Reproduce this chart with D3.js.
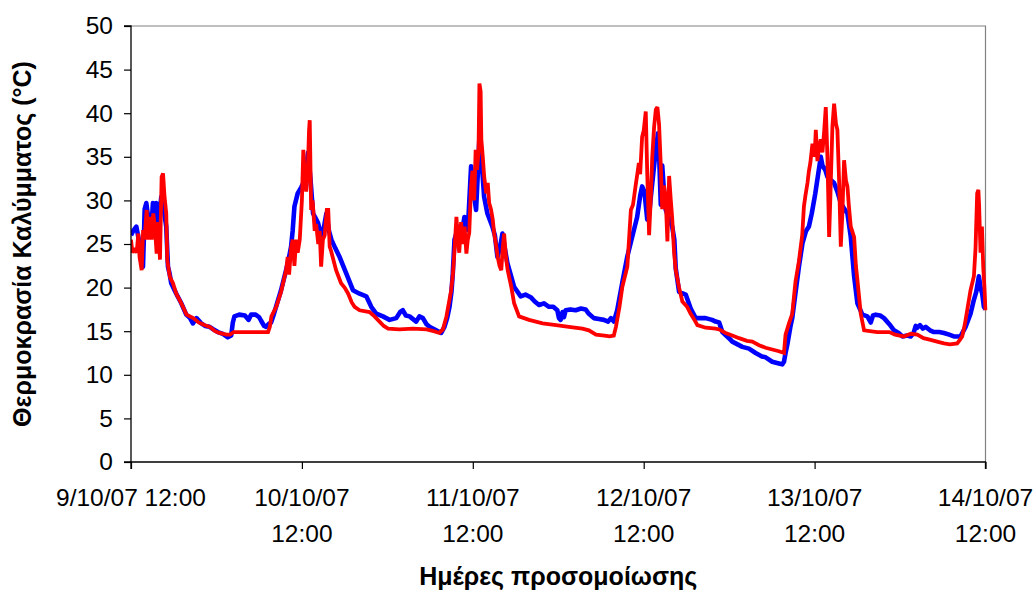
<!DOCTYPE html>
<html>
<head>
<meta charset="utf-8">
<script src="https://cdn.jsdelivr.net/npm/d3@7"></script>
<style>
  html, body { margin: 0; padding: 0; background: #fff; }
  svg { display: block; }
  text { font-family: "Liberation Sans", Arial, sans-serif; fill: #000; }
</style>
</head>
<body>
<div id="chart"></div>
<script>
// ---- data (hours after 9/10/07 12:00, temperature °C) ----
const blueHours = [0,0.3,0.75,1.1,1.45,1.68,1.8,1.92,2.15,2.5,2.8,3.08,3.3,3.55,3.8,4.0,4.25,4.6,4.95,5.19,5.42,5.65,6.36,7.06,7.76,8.3,8.69,9.2,9.86,10.4,11.03,11.6,12.2,12.9,13.6,14.07,14.3,14.53,15.2,16.0,16.5,16.87,17.5,18.0,18.27,18.7,18.97,19.3,19.67,20.0,20.37,21.07,21.78,22.2,22.48,22.7,22.95,23.41,
  23.9,24.4,24.87,25.2,25.57,25.9,26.27,26.7,27.0,27.44,27.8,28.14,28.7,29.3,30.24,31.17,32.1,33.04,33.74,34.45,35.38,36.31,37.25,37.8,38.18,38.6,39.12,40.05,40.5,40.99,41.5,41.92,42.86,43.56,44.02,44.4,44.73,45.0,45.19,45.43,45.8,46.13,46.5,46.83,47.3,47.76,48.1,48.46,48.7,48.93,
  49.2,49.59,50.05,50.75,51.1,51.46,51.8,52.16,52.5,52.86,53.32,53.79,54.73,55.4,56.13,56.7,57.3,58.0,58.7,59.3,59.87,60.1,60.33,60.6,60.8,61.04,61.7,62.44,63.2,63.84,64.3,65.0,65.7,66.41,67.0,67.4,67.81,68.28,68.98,69.68,70.38,71.08,71.5,71.78,
  72.1,72.5,72.76,73.0,73.5,74.0,74.2,74.4,74.6,74.86,75.1,75.6,76.0,76.3,76.5,76.97,77.9,78.6,79.3,80.7,81.6,82.1,82.6,83.04,83.98,84.44,85.38,85.85,86.78,87.72,88.6,89.12,90.05,90.99,91.45,91.7,91.92,92.2,92.6,92.86,93.3,93.8,94.3,94.8,95.2,95.6,96.1,96.5,96.87,97.1,97.5,
  97.8,98.74,99.2,99.68,100.2,100.61,101.08,101.55,102.01,102.71,103.41,103.88,104.2,104.58,105.2,105.75,106.5,107.15,107.8,108.32,109.0,109.49,109.9,110.2,110.42,110.8,111.2,111.59,112.2,112.76,113.5,114.16,114.9,115.56,116.5,117.2,117.9,118.37,118.7,119.07,119.3,119.54,119.77,120.0];
const blueTemp = [26.0,26.5,27.0,25.5,23.2,22.4,25.5,29.0,29.7,27.5,26.0,29.7,27.5,29.7,26.5,28.5,30.4,29.0,27.0,22.4,21.6,20.5,19.3,18.2,16.9,16.5,15.9,16.5,15.9,15.6,15.5,15.2,14.9,14.7,14.3,14.5,16.0,16.7,16.9,16.8,16.3,16.9,16.9,16.6,16.2,15.6,15.5,15.8,16.0,16.8,17.8,19.7,22.0,23.5,24.7,26.5,29.3,30.8,
  31.5,32.3,35.5,32.5,28.5,28.0,27.4,26.0,26.5,28.5,26.5,25.5,24.5,23.5,21.6,19.7,19.3,19.0,17.8,17.0,16.7,16.3,16.5,17.2,17.4,16.8,16.7,16.1,16.7,16.5,15.8,15.5,15.1,14.8,15.5,16.5,17.8,19.5,21.6,25.5,26.5,27.0,26.5,28.1,26.6,33.9,31.0,28.9,33.0,37.3,
  35.0,30.4,28.5,27.0,26.0,23.5,24.5,26.2,24.5,22.8,21.5,20.1,19.0,19.2,18.9,18.4,18.0,18.2,17.8,17.8,17.4,16.5,16.3,17.2,16.6,17.4,17.5,17.4,17.6,17.5,17.0,16.5,16.4,16.3,16.1,16.5,16.1,17.4,20.5,23.5,25.8,28.1,30.5,31.6,
  31.0,27.8,28.3,30.4,34.3,37.7,34.4,29.5,34.0,30.9,28.9,27.8,27.0,25.5,22.2,19.5,19.2,17.6,16.5,16.5,16.3,16.1,16.0,14.9,14.2,13.8,13.4,13.2,13.0,12.5,12.1,12.0,11.5,11.3,11.2,11.5,12.5,13.6,15.5,16.5,19.3,22.4,25.1,26.5,27.0,28.5,30.8,33.0,35.0,34.0,33.5,
  32.7,32.0,31.0,29.7,29.0,28.5,25.8,21.3,18.2,16.9,16.7,16.0,16.8,16.9,16.8,16.5,15.8,15.1,14.8,14.4,14.5,14.4,14.8,15.6,15.4,15.7,15.3,15.5,15.1,14.9,14.9,14.8,14.6,14.4,14.4,15.5,17.0,18.6,19.5,21.3,20.0,19.3,17.8,17.5];

const redHours = [0,0.2,0.5,0.8,1.03,1.2,1.5,1.7,1.9,2.2,2.45,2.7,2.9,3.13,3.35,3.6,3.8,4.07,4.3,4.5,4.7,4.95,5.09,5.3,5.47,5.9,6.36,7.06,7.8,8.74,9.5,10.3,11.07,11.8,12.4,13.4,13.9,14.4,15.05,17.0,19.25,19.5,19.72,20.4,21.07,21.5,21.78,22.0,22.2,22.48,22.71,22.95,23.2,23.41,
  23.7,24.0,24.2,24.4,24.6,24.85,25.0,25.1,25.3,25.5,25.8,26.0,26.3,26.5,26.7,26.95,27.2,27.5,27.7,27.9,28.1,28.8,29.5,30.0,30.5,31.0,31.4,32.1,33.5,34.2,34.9,35.5,36.1,37.7,39.6,41.5,42.5,43.3,43.8,44.3,44.96,45.2,45.4,45.7,45.9,46.1,46.35,46.6,46.85,47.1,47.3,47.5,47.75,47.95,48.2,48.4,48.6,48.8,
  48.93,49.1,49.2,49.4,49.6,49.9,50.1,50.3,50.55,50.8,51.0,51.25,51.5,51.75,52.0,52.2,52.4,52.65,52.9,53.4,53.8,54.5,55.2,55.9,57.8,59.7,61.5,63.4,64.3,65.3,66.5,67.2,67.8,68.1,68.6,69.0,69.7,70.2,70.5,70.85,71.1,71.32,71.5,71.78,
  72.0,72.29,72.5,72.76,73.0,73.2,73.46,73.7,73.93,74.16,74.4,74.6,74.86,75.1,75.33,75.57,75.8,76.0,76.27,76.5,76.97,77.43,78.1,78.6,79.2,79.54,80.7,82.1,82.6,83.5,84.44,85.4,86.5,87.25,88.2,89.12,90.05,90.99,91.7,91.92,92.4,92.86,93.32,93.79,94.26,94.5,94.72,95.0,95.19,95.4,95.7,96.0,96.17,96.4,96.6,96.87,97.1,97.35,97.57,97.8,98.04,98.2,98.5,98.74,99.0,99.2,99.44,99.68,99.9,100.14,100.4,100.61,100.8,101.08,101.55,101.8,102.01,102.48,102.95,
  104.8,106.5,107.3,108.55,109.5,110.42,111.3,112.29,113.2,114.16,115.0,116.03,116.4,116.73,117.1,117.43,117.9,118.37,118.6,118.83,119.0,119.1,119.3,119.5,119.68,119.85,120.0];
const redTemp = [25.5,24.0,24.5,24.0,26.2,23.5,22.0,26.6,25.5,28.9,25.5,28.1,25.5,28.5,27.0,23.9,27.5,23.2,32.7,33.1,30.5,28.5,23.2,22.0,21.2,20.5,19.3,18.2,16.9,16.5,16.0,15.7,15.5,15.0,14.8,14.6,14.6,14.9,14.9,14.9,14.9,15.5,16.7,17.8,19.5,21.0,22.0,23.5,21.5,24.5,25.5,22.5,25.5,24.0,
  25.5,30.0,35.8,33.0,31.0,34.0,38.0,39.2,28.9,30.0,26.5,27.3,25.0,26.5,22.4,25.5,26.0,28.9,28.9,24.7,24.2,22.0,20.5,20.0,19.3,18.3,17.8,17.4,17.2,16.7,16.1,15.6,15.3,15.2,15.3,15.2,15.0,14.8,15.2,16.7,19.7,21.5,23.9,28.1,25.5,24.0,27.5,25.0,27.0,23.9,25.5,26.3,31.5,33.4,30.0,35.8,33.5,35.5,
  43.4,42.5,37.0,35.0,32.7,30.8,32.0,29.7,29.0,27.8,26.2,25.0,23.5,22.5,22.0,24.5,26.2,23.5,22.0,20.1,18.2,16.7,16.5,16.3,15.9,15.7,15.5,15.3,15.1,14.6,14.5,14.4,14.5,15.5,17.8,20.1,22.4,28.9,29.5,31.6,33.0,34.3,33.0,37.3,
  38.0,40.2,33.0,26.0,30.4,35.0,38.4,40.4,40.7,38.7,34.0,29.0,31.7,30.0,25.3,32.8,30.1,28.0,24.0,22.0,20.0,18.4,17.8,17.0,16.2,15.7,15.4,15.3,15.2,14.8,14.5,14.2,13.9,13.8,13.4,13.1,12.9,12.7,12.5,14.6,15.9,17.0,20.7,23.0,26.0,29.3,30.6,32.0,33.3,34.3,36.5,35.0,38.1,34.5,36.0,37.0,35.5,38.0,40.7,35.0,25.8,30.0,38.5,41.1,38.8,38.1,32.3,24.7,28.5,34.6,32.3,31.6,29.5,27.0,25.8,22.5,20.9,17.0,15.1,
  14.9,14.9,14.6,14.4,14.7,14.6,14.2,14.0,13.8,13.6,13.5,13.6,14.0,14.4,15.8,17.4,19.7,21.3,24.5,30.8,31.2,29.5,24.0,27.0,22.4,20.0,17.4];

const xTickHours = [0, 24, 48, 72, 96, 120];
const xTickLabels = [["9/10/07 12:00"], ["10/10/07", "12:00"], ["11/10/07", "12:00"], ["12/10/07", "12:00"], ["13/10/07", "12:00"], ["14/10/07", "12:00"]];
const yTicks = [0, 5, 10, 15, 20, 25, 30, 35, 40, 45, 50];
const yTitle = "Θερμοκρασία Καλύμματος (°C)";
const xTitle = "Ημέρες προσομοίωσης";

// ---- layout ----
const W = 1036, H = 591;
const L = 131, R = 985.5, T = 26, B = 462;

const svg = d3.select("#chart").append("svg").attr("width", W).attr("height", H);
svg.append("rect").attr("width", W).attr("height", H).attr("fill", "#fff");

const x = d3.scaleLinear().domain([0, 120]).range([L, R]);
const y = d3.scaleLinear().domain([0, 50]).range([B, T]);

// plot border (top/right gray)
svg.append("path")
  .attr("d", `M${L},${T}H${R}V${B}`)
  .attr("fill", "none").attr("stroke", "#808080").attr("stroke-width", 1.2);

// lines
svg.append("clipPath").attr("id", "clip").append("rect")
  .attr("x", L).attr("y", T - 2).attr("width", R - L + 2).attr("height", B - T + 2);

const line = d3.line().x(d => x(d[0])).y(d => y(d[1]));
const blueData = blueHours.map((h, i) => [h, blueTemp[i]]);
const redData = redHours.map((h, i) => [h, redTemp[i]]);

const g = svg.append("g").attr("clip-path", "url(#clip)");
g.append("path").datum(blueData).attr("d", line)
  .attr("fill", "none").attr("stroke", "#0000FF").attr("stroke-width", 4.6)
  .attr("stroke-linejoin", "round").attr("stroke-linecap", "butt");
g.append("path").datum(redData).attr("d", line)
  .attr("fill", "none").attr("stroke", "#FF0000").attr("stroke-width", 3.8)
  .attr("stroke-linejoin", "miter").attr("stroke-miterlimit", 2).attr("stroke-linecap", "butt");

// y axis
const yAxis = d3.axisLeft(y).tickValues(yTicks).tickSize(7).tickPadding(11).tickFormat(d3.format("d"));
const ya = svg.append("g").attr("transform", `translate(${L},0)`).call(yAxis);
ya.select(".domain").attr("stroke", "#000").attr("stroke-width", 1.3).attr("d", `M-7,${B}H0V${T}H-7`);
ya.selectAll(".tick line").attr("stroke", "#000").attr("stroke-width", 1.2);
ya.selectAll(".tick text").attr("font-size", 24.5).attr("font-family", "Liberation Sans, Arial, sans-serif").attr("fill", "#000");

// x axis
const xAxis = d3.axisBottom(x).tickValues(xTickHours).tickSize(7).tickFormat("");
const xa = svg.append("g").attr("transform", `translate(0,${B})`).call(xAxis);
xa.select(".domain").attr("stroke", "#000").attr("stroke-width", 1.3).attr("d", `M${L},7V0H${R}V7`);
xa.selectAll(".tick line").attr("stroke", "#000").attr("stroke-width", 1.2);

const xl = svg.append("g");
xTickHours.forEach((h, i) => {
  const t = xl.append("text").attr("text-anchor", "middle").attr("font-size", 24.5)
    .attr("x", x(h)).attr("y", 506);
  xTickLabels[i].forEach((s, j) => {
    t.append("tspan").attr("x", x(h)).attr("y", 506 + j * 36).text(s);
  });
});

// titles
svg.append("text").attr("x", (L + R) / 2).attr("y", 585).attr("text-anchor", "middle")
  .attr("font-size", 25).attr("font-weight", "bold").text(xTitle);
svg.append("text").attr("transform", `translate(31,${(T + B) / 2}) rotate(-90)`)
  .attr("text-anchor", "middle").attr("font-size", 25).attr("font-weight", "bold").text(yTitle);
</script>
</body>
</html>
